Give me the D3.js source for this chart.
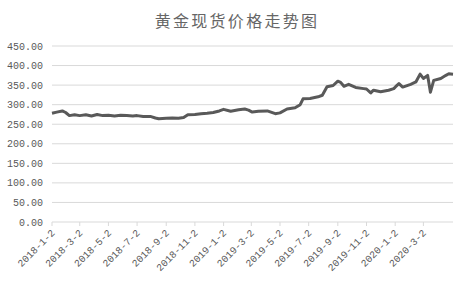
<!DOCTYPE html>
<html>
<head>
<meta charset="utf-8">
<script src="https://cdn.jsdelivr.net/npm/d3@7"></script>
<style>
  html, body { margin: 0; padding: 0; background: #fff; overflow: hidden; }
  svg { display: block; }
  text { font-family: "Liberation Mono", monospace; fill: #595959; }
  .title { font-family: "Noto Sans CJK SC", sans-serif; }
</style>
</head>
<body>
<svg class="chart" width="474" height="283"></svg>
<script>
  // dates and spot price
  const dates = [
    '2018-01-02','2018-01-12','2018-01-24','2018-01-31','2018-02-08','2018-02-19','2018-03-02','2018-03-15',
    '2018-03-27','2018-04-08','2018-04-20','2018-05-02','2018-05-15','2018-05-28','2018-06-10','2018-06-23',
    '2018-07-02','2018-07-15','2018-07-30','2018-08-10','2018-08-17','2018-09-02','2018-09-15','2018-09-28',
    '2018-10-09','2018-10-18','2018-11-02','2018-11-15','2018-11-28','2018-12-11','2018-12-24','2019-01-02',
    '2019-01-17','2019-02-03','2019-02-16','2019-02-24','2019-03-04','2019-03-17','2019-04-05','2019-04-22',
    '2019-05-02','2019-05-17','2019-06-03','2019-06-14','2019-06-20','2019-07-05','2019-07-22','2019-07-31',
    '2019-08-10','2019-08-23','2019-09-02','2019-09-08','2019-09-15','2019-09-25','2019-10-10','2019-10-27',
    '2019-11-02','2019-11-11','2019-11-17','2019-12-02','2019-12-19','2019-12-30','2020-01-03','2020-01-10',
    '2020-01-18','2020-02-04','2020-02-15','2020-02-24','2020-03-02','2020-03-11','2020-03-17','2020-03-24',
    '2020-04-08','2020-04-19','2020-04-25','2020-05-04'
  ];
  const prices = [
    278, 281, 284, 280, 272, 274, 272, 274,
    271, 275, 272, 273, 271, 273, 272, 271,
    272, 270, 270, 266, 264, 265, 266, 265,
    267, 274, 275, 277, 278, 280, 284, 288,
    283, 287, 289, 286, 281, 283, 284, 277,
    279, 289, 292, 300, 315, 316, 320, 324,
    346, 349, 360, 357, 347, 352, 344, 341,
    340, 330, 337, 333, 337, 341, 346, 354,
    345, 352, 358, 378, 367, 375, 332, 362,
    367, 375, 379, 378
  ];
  const tickDates = ['2018-01-02','2018-03-02','2018-05-02','2018-07-02','2018-09-02','2018-11-02',
    '2019-01-02','2019-03-02','2019-05-02','2019-07-02','2019-09-02','2019-11-02','2020-01-02','2020-03-02'];
  const yTicks = [0, 50, 100, 150, 200, 250, 300, 350, 400, 450];

  const svg = d3.select('.chart');
  const width = +svg.attr('width');
  const height = +svg.attr('height');
  const margin = { top: 46, right: 21, bottom: 61, left: 52 };
  const innerWidth = width - margin.left - margin.right;
  const innerHeight = height - margin.top - margin.bottom;

  const parse = d3.timeParse('%Y-%m-%d');
  const data = dates.map((d, i) => ({ date: parse(d), price: prices[i] }));

  const xScale = d3.scaleTime()
    .domain([parse('2018-01-02'), parse('2020-05-04')])
    .range([0, innerWidth]);
  const yScale = d3.scaleLinear()
    .domain([0, 450])
    .range([innerHeight, 0]);

  svg.append('text')
    .attr('class', 'title')
    .attr('x', width / 2)
    .attr('y', 27)
    .attr('text-anchor', 'middle')
    .style('font-size', '16px')
    .style('letter-spacing', '2.3px')
    .style('fill', '#666')
    .text('黄金现货价格走势图');

  const g = svg.append('g')
    .attr('transform', `translate(${margin.left},${margin.top})`);

  // gridlines
  g.append('g')
    .selectAll('line').data(yTicks)
    .enter().append('line')
      .attr('x1', 0)
      .attr('x2', innerWidth)
      .attr('y1', d => yScale(d))
      .attr('y2', d => yScale(d))
      .attr('stroke', '#d9d9d9');

  // y labels
  g.append('g')
    .selectAll('text').data(yTicks)
    .enter().append('text')
      .attr('x', -9)
      .attr('y', d => yScale(d))
      .attr('dy', '0.35em')
      .attr('text-anchor', 'end')
      .style('font-size', '10px')
      .text(d => d3.format('.2f')(d));

  // x ticks + labels
  const xTicks = g.append('g')
    .attr('transform', `translate(0,${innerHeight})`)
    .selectAll('g').data(tickDates.map(parse))
    .enter().append('g')
      .attr('transform', d => `translate(${xScale(d)},0)`);
  xTicks.append('line')
    .attr('y2', 4)
    .attr('stroke', '#d9d9d9');
  xTicks.append('text')
    .attr('text-anchor', 'end')
    .attr('dy', '0.35em')
    .attr('transform', 'translate(1,9) rotate(-45)')
    .style('font-size', '10px')
    .text(d3.timeFormat('%Y-%-m-%-d'));

  const line = d3.line()
    .x(d => xScale(d.date))
    .y(d => yScale(d.price));

  g.append('path')
    .datum(data)
    .attr('fill', 'none')
    .attr('stroke', '#595959')
    .attr('stroke-width', 3)
    .attr('stroke-linejoin', 'round')
    .attr('d', line);
</script>
</body>
</html>
